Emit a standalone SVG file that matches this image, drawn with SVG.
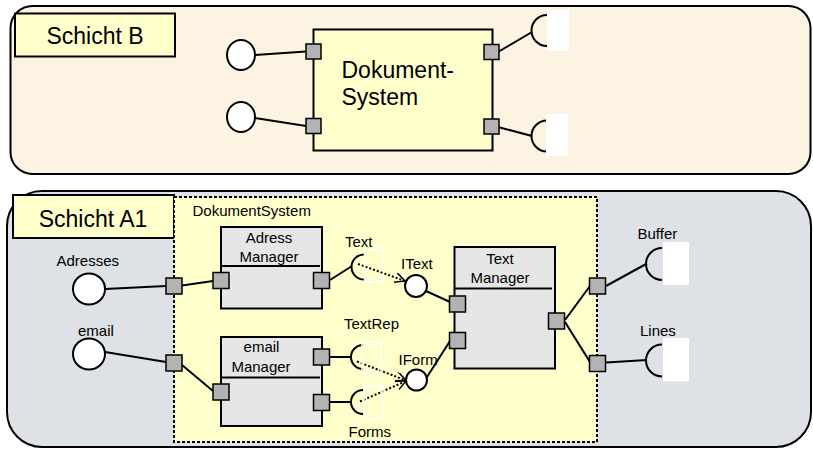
<svg xmlns="http://www.w3.org/2000/svg" width="813" height="451" viewBox="0 0 813 451">
<style>
text{font-family:"Liberation Sans",Arial,sans-serif;fill:#000}
.lbl{font-size:15px}
.big{font-size:23px}
.layer{stroke:#000;stroke-width:2}
.box{fill:#FFFFCC;stroke:#000;stroke-width:2}
.comp{fill:#E6E6E6;stroke:#000;stroke-width:2}
.port{fill:#B3B3B3;stroke:#000;stroke-width:1.5}
.iface{fill:#fff;stroke:#000;stroke-width:2}
.sock{fill:none;stroke:#000;stroke-width:2}
.wfill{fill:#fff;stroke:none}
.wline{fill:none;stroke:#fff;stroke-width:1.5}
.c{fill:none;stroke:#000;stroke-width:2}
.dot{fill:none;stroke:#000;stroke-width:2;stroke-dasharray:2,2}
</style>
<defs>
<marker id="open" markerUnits="userSpaceOnUse" markerWidth="12" markerHeight="12" refX="10" refY="5" orient="auto">
<path d="M0,0 L10,5 L0,10" fill="none" stroke="#000" stroke-width="1.5"/>
</marker>
</defs>

<g id="layer-b">
<rect class="layer" x="10.5" y="6" width="800" height="168" rx="22" fill="#FDF3E3"/>
<rect class="box" x="15" y="13.5" width="160" height="43"/>
<text class="big" x="95" y="44" text-anchor="middle">Schicht B</text>
</g>

<g id="layer-a1">
<rect class="layer" x="7" y="191" width="804" height="256" rx="35" fill="#DEE1E5"/>
<rect class="box" x="13" y="195" width="161" height="43"/>
<text class="big" x="93" y="227" text-anchor="middle">Schicht A1</text>
</g>

<g id="dokumentsystem-container">
<rect x="174" y="197" width="423" height="245" fill="#FFFFCC" stroke="#000" stroke-width="2" stroke-dasharray="3,2"/>
<text class="lbl" x="192.5" y="216">DokumentSystem</text>
</g>

<g id="connectors">
<line class="c" x1="255" y1="55" x2="306" y2="51.5"/>
<line class="c" x1="255" y1="118" x2="306" y2="126"/>
<line class="c" x1="498" y1="52" x2="532" y2="32"/>
<line class="c" x1="498" y1="127" x2="532" y2="136"/>
<line class="c" x1="105" y1="289" x2="166" y2="286"/>
<line class="c" x1="182" y1="285.5" x2="213" y2="281"/>
<line class="c" x1="105" y1="352" x2="166" y2="362"/>
<line class="c" x1="182" y1="365" x2="213" y2="391"/>
<line class="c" x1="330" y1="280" x2="352" y2="266"/>
<line class="c" x1="330" y1="357" x2="351" y2="357"/>
<line class="c" x1="330" y1="402" x2="351" y2="402"/>
<line class="c" x1="426" y1="291" x2="450" y2="302"/>
<line class="c" x1="427" y1="377" x2="450" y2="341"/>
<line class="c" x1="565" y1="320" x2="590" y2="286"/>
<line class="c" x1="565" y1="322" x2="590" y2="362"/>
<line class="c" x1="606" y1="286" x2="647" y2="263.5"/>
<line class="c" x1="606" y1="362.5" x2="647" y2="360"/>
<line class="dot" x1="358" y1="264" x2="405" y2="281" marker-end="url(#open)"/>
<line class="dot" x1="357" y1="361.5" x2="406" y2="380.5" marker-end="url(#open)"/>
<line class="dot" x1="360" y1="401.5" x2="406" y2="381" marker-end="url(#open)"/>
</g>

<g id="b-dokument-system">
<rect class="box" x="313.5" y="29.5" width="179" height="121"/>
<text class="big" x="341.5" y="77.5">Dokument-</text>
<text class="big" x="341.5" y="105">System</text>
<rect class="port" x="306" y="44" width="15" height="15"/>
<rect class="port" x="306" y="118.5" width="15" height="15"/>
<rect class="port" x="484" y="44.5" width="15" height="15"/>
<rect class="port" x="484" y="119" width="15" height="15"/>
</g>

<g id="b-provided-1"><ellipse class="iface" cx="241" cy="55" rx="14" ry="15"/></g>
<g id="b-provided-2"><ellipse class="iface" cx="241" cy="117" rx="14" ry="15"/></g>
<g id="b-required-1">
<path class="sock" d="M547,15 A15.5,15.5 0 0 0 547,46"/>
<rect class="wfill" x="547" y="10" width="22" height="41"/>
</g>
<g id="b-required-2">
<path class="sock" d="M547,120.5 A15.5,15.5 0 0 0 547,151.5"/>
<rect class="wfill" x="546" y="114" width="22" height="42"/>
</g>

<g id="adresses">
<ellipse class="iface" cx="89" cy="289" rx="16" ry="15.5"/>
<text class="lbl" x="56.5" y="266">Adresses</text>
</g>
<g id="email">
<ellipse class="iface" cx="89" cy="354" rx="16" ry="15.5"/>
<text class="lbl" x="78" y="336">email</text>
</g>
<g id="boundary-ports-left">
<rect class="port" x="166" y="278" width="16" height="16"/>
<rect class="port" x="166" y="355" width="16" height="16"/>
</g>

<g id="adress-manager">
<rect class="comp" x="221" y="227" width="101" height="81.5"/>
<line class="c" x1="221" y1="266" x2="320" y2="266"/>
<text class="lbl" x="269" y="243" text-anchor="middle">Adress</text>
<text class="lbl" x="269" y="261.5" text-anchor="middle">Manager</text>
<rect class="port" x="213" y="272.5" width="16" height="16"/>
<rect class="port" x="313.5" y="272.5" width="16" height="16"/>
</g>

<g id="email-manager">
<rect class="comp" x="221" y="337" width="101" height="89"/>
<line class="c" x1="221" y1="377.5" x2="320" y2="377.5"/>
<text class="lbl" x="261.5" y="351.5" text-anchor="middle">email</text>
<text class="lbl" x="261" y="371.5" text-anchor="middle">Manager</text>
<rect class="port" x="213" y="384" width="16" height="16"/>
<rect class="port" x="313.5" y="349" width="16" height="16"/>
<rect class="port" x="313.5" y="394.5" width="16" height="16"/>
</g>

<g id="text-socket">
<path class="sock" d="M364,254.5 A12.5,12.5 0 0 0 364,279.5"/>
<rect class="wline" x="364.5" y="250" width="19" height="32"/>
<text class="lbl" x="345" y="246.5">Text</text>
</g>
<g id="textrep-socket">
<path class="sock" d="M363,345 A12,12 0 0 0 363,369"/>
<rect class="wline" x="362" y="342" width="19" height="31"/>
<text class="lbl" x="344" y="328.5">TextRep</text>
</g>
<g id="forms-socket">
<path class="sock" d="M363,390 A12,12 0 0 0 363,414"/>
<rect class="wline" x="364" y="386" width="19" height="33"/>
<text class="lbl" x="348.5" y="436.5">Forms</text>
</g>

<g id="itext">
<circle class="iface" cx="416" cy="286" r="11"/>
<text class="lbl" x="401" y="269">IText</text>
</g>
<g id="iform">
<circle class="iface" cx="416.5" cy="380" r="10.5"/>
<text class="lbl" x="398.5" y="365">IForm</text>
</g>

<g id="text-manager">
<rect class="comp" x="454.5" y="247" width="100.5" height="121.5"/>
<line class="c" x1="454.5" y1="288.5" x2="552" y2="288.5"/>
<text class="lbl" x="500" y="264" text-anchor="middle">Text</text>
<text class="lbl" x="500" y="282.5" text-anchor="middle">Manager</text>
<rect class="port" x="449.5" y="296" width="16" height="16"/>
<rect class="port" x="449.5" y="332.5" width="16" height="16"/>
<rect class="port" x="548.5" y="313" width="16" height="16"/>
</g>

<g id="boundary-ports-right">
<rect class="port" x="589.5" y="278" width="16" height="16"/>
<rect class="port" x="589.5" y="355.5" width="16" height="16"/>
</g>

<g id="buffer">
<path class="sock" d="M662,248 A16,16 0 0 0 662,280"/>
<rect class="wfill" x="663" y="242" width="26" height="43"/>
<text class="lbl" x="637.5" y="238.5">Buffer</text>
</g>
<g id="lines">
<path class="sock" d="M662,344.5 A16,16 0 0 0 662,376.5"/>
<rect class="wfill" x="663" y="338" width="26" height="43.5"/>
<text class="lbl" x="640" y="335.5">Lines</text>
</g>
</svg>
